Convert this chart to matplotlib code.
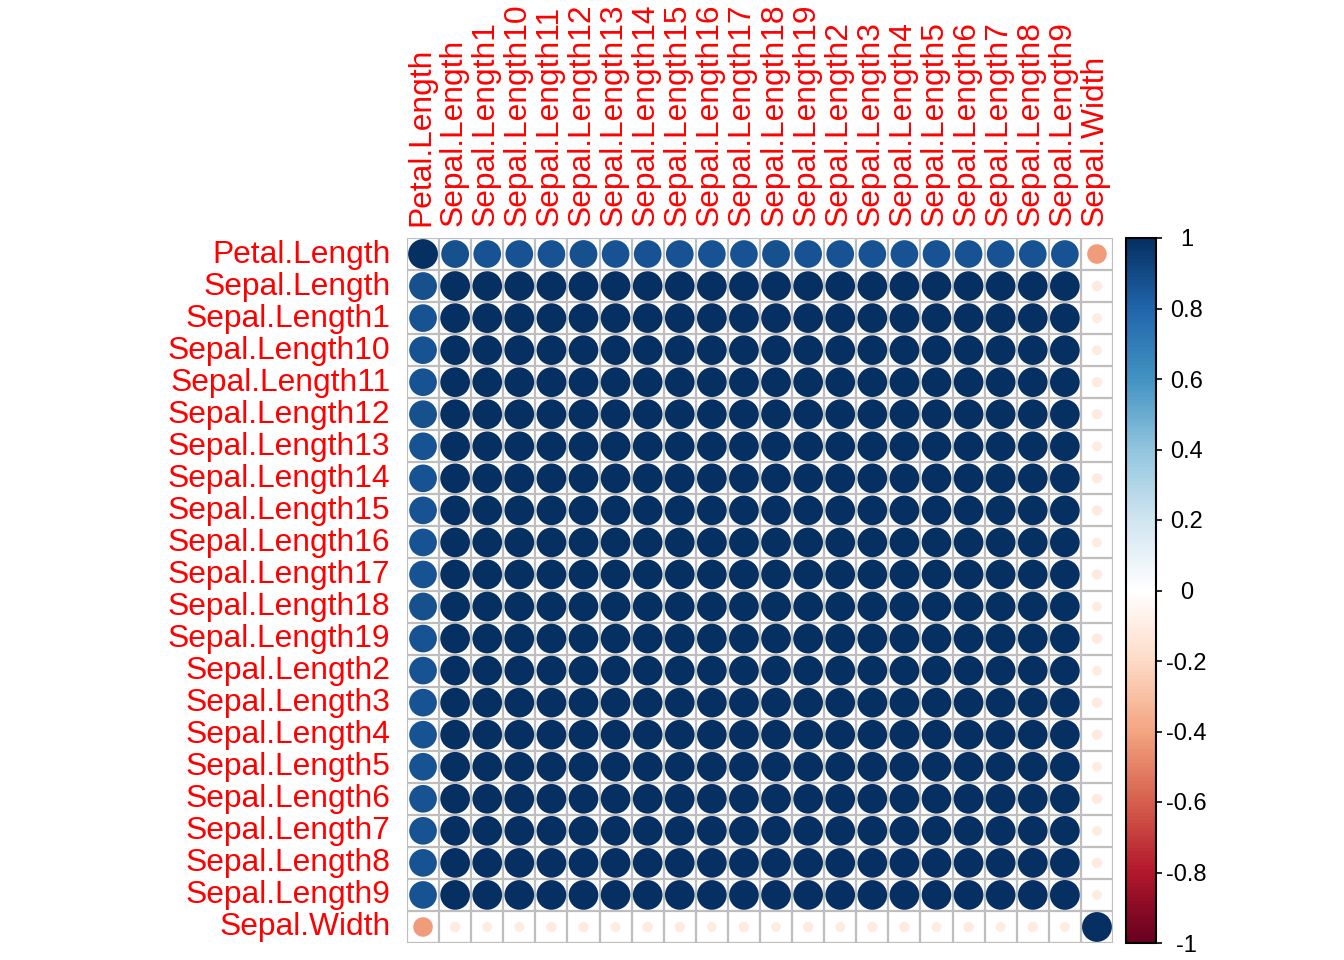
import numpy as np
import matplotlib.pyplot as plt
from matplotlib.colors import LinearSegmentedColormap, Normalize
from matplotlib.patches import Circle
from matplotlib.transforms import ScaledTranslation
import matplotlib as mpl

plt.rcParams['font.family'] = ['Liberation Sans', 'DejaVu Sans']

names = ['Petal.Length', 'Sepal.Length', 'Sepal.Length1'] + \
    ['Sepal.Length%d' % i for i in range(10, 20)] + \
    ['Sepal.Length%d' % i for i in range(2, 10)] + ['Sepal.Width']

# correlations (20 Sepal.Length columns)
petal_vs_sepal = [0.87, 0.86, 0.86, 0.86, 0.87, 0.86, 0.86, 0.86, 0.86, 0.86,
                  0.87, 0.86, 0.86, 0.86, 0.86, 0.86, 0.86, 0.86, 0.86, 0.86]
width_vs_sepal = [-0.12, -0.11, -0.11, -0.12, -0.12, -0.11, -0.12, -0.12, -0.11, -0.12,
                  -0.11, -0.12, -0.11, -0.12, -0.12, -0.11, -0.12, -0.11, -0.12, -0.11]
width_vs_petal = -0.43
sepal_vs_sepal = 0.99

n = len(names)
corr = np.full((n, n), sepal_vs_sepal)
corr[0, 1:-1] = petal_vs_sepal
corr[1:-1, 0] = petal_vs_sepal
corr[-1, 1:-1] = width_vs_sepal
corr[1:-1, -1] = width_vs_sepal
corr[0, -1] = corr[-1, 0] = width_vs_petal
np.fill_diagonal(corr, 1.0)

cols = ["#67001F", "#B2182B", "#D6604D", "#F4A582", "#FDDBC7", "#FFFFFF",
        "#D1E5F0", "#92C5DE", "#4393C3", "#2166AC", "#053061"]
cmap = LinearSegmentedColormap.from_list('rdbu', cols, N=200)
norm = Normalize(-1, 1)

W, H = 1344, 960
fig = plt.figure(figsize=(W / 100, H / 100), dpi=100)
ax = fig.add_axes([407 / W, (H - 943) / H, 706 / W, 705 / H])
ax.set_xlim(0, n)
ax.set_ylim(n, 0)

for i in range(n):
    for j in range(n):
        v = corr[i, j]
        r = np.sqrt(abs(v)) * 0.465
        ax.add_patch(Circle((j + 0.5, i + 0.5), r, facecolor=cmap(norm(v)),
                            edgecolor='none', zorder=2))

ax.hlines(np.arange(n + 1), 0, n, color='#BEBEBE', lw=1.6, zorder=1)
ax.vlines(np.arange(n + 1), 0, n, color='#BEBEBE', lw=1.6, zorder=1)
for s in ax.spines.values():
    s.set_visible(False)

ax.set_yticks(np.arange(n) + 0.5)
ax.set_yticklabels(names, color='red', fontsize=22.9)
ax.xaxis.tick_top()
ax.set_xticks(np.arange(n) + 0.5)
ax.set_xticklabels(names, color='red', fontsize=22.9, rotation=90, va='bottom')
ax.tick_params(length=0)
ax.tick_params(axis='y', pad=12)
ax.tick_params(axis='x', pad=9)

up = ScaledTranslation(0, 3 / 100, fig.dpi_scale_trans)
for t in ax.get_yticklabels():
    t.set_transform(t.get_transform() + up)
left = ScaledTranslation(-2 / 100, 0, fig.dpi_scale_trans)
for t in ax.get_xticklabels():
    t.set_transform(t.get_transform() + left)

cax = fig.add_axes([1126 / W, (H - 943) / H, 30 / W, 705 / H])
cb = mpl.colorbar.ColorbarBase(cax, cmap=cmap, norm=norm)
ticks = np.round(np.arange(-1, 1.01, 0.2), 1)
cb.set_ticks(ticks)
cb.set_ticklabels(['%g' % t if t != 0 else '0' for t in ticks])
cb.outline.set_linewidth(1.5)
cb.outline.set_edgecolor('black')
cax.tick_params(length=4, width=1.2, pad=18, labelsize=17)
for t in cax.get_yticklabels():
    t.set_ha('center')

fig.savefig('out.png', dpi=100)
